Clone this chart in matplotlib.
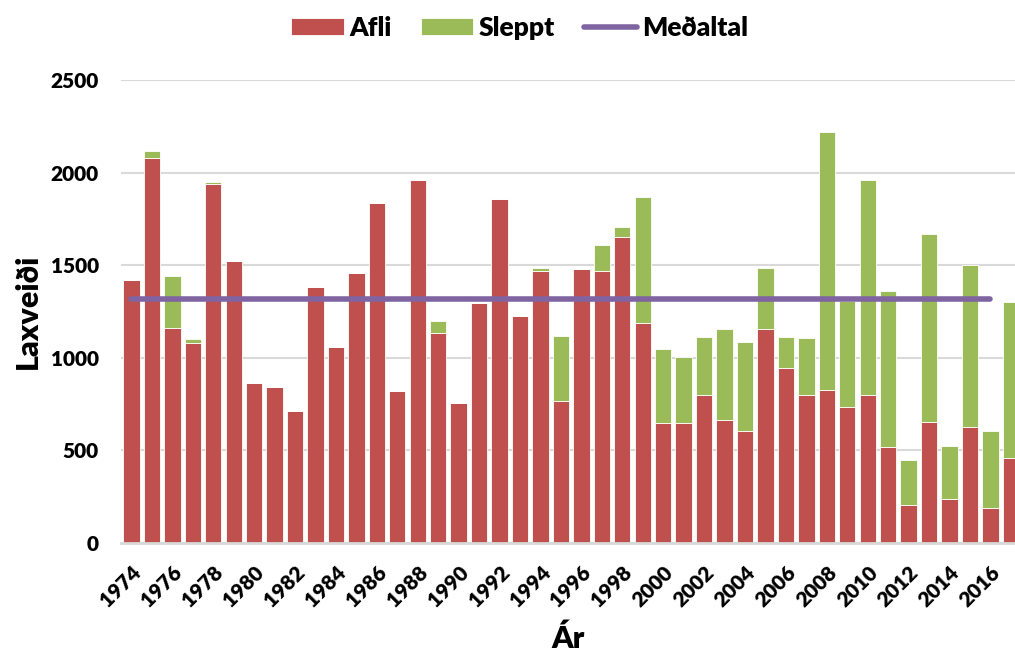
import matplotlib.pyplot as plt
import numpy as np

plt.rcParams['font.family'] = ['Lato', 'DejaVu Sans']
plt.rcParams['font.weight'] = 'bold'

# ár (years)
years = np.arange(1974, 2018)

# afli (catch kept)
afli = np.array([1420, 2080, 1160, 1080, 1940, 1525, 865, 845, 715, 1380,
                 1060, 1460, 1835, 820, 1960, 1135, 755, 1295, 1860, 1225,
                 1470, 765, 1480, 1470, 1650, 1190, 650, 650, 800, 665,
                 605, 1155, 945, 800, 825, 735, 800, 520, 205, 655,
                 240, 625, 190, 460])

# total incl. sleppt (released)
total = np.array([1420, 2115, 1440, 1100, 1950, 1525, 865, 845, 715, 1380,
                  1060, 1460, 1835, 820, 1960, 1200, 755, 1295, 1860, 1225,
                  1485, 1120, 1480, 1610, 1705, 1870, 1045, 1005, 1115, 1155,
                  1085, 1485, 1110, 1105, 2220, 1305, 1960, 1360, 450, 1670,
                  525, 1500, 605, 1300])
sleppt = total - afli

# meðaltal (mean) 1974-2016
mean_years = np.array([1974, 2016])
mean_vals = np.array([1318, 1318])

red = '#C0504D'
green = '#9BBB59'
purple = '#8064A2'

fig = plt.figure(figsize=(10.15, 6.57), dpi=100)
ax = fig.add_axes([0.1192, 0.1735, 0.8808, 0.7047])

b1 = ax.bar(years, afli, width=0.8, color=red, edgecolor='white', linewidth=0.6,
            label='Afli', zorder=2)
b2 = ax.bar(years, sleppt, bottom=afli, width=0.8, color=green, edgecolor='white',
            linewidth=0.6, label='Sleppt', zorder=2)
l1, = ax.plot(mean_years, mean_vals, color=purple, linewidth=4,
              solid_capstyle='round', label='Meðaltal', zorder=3)

ax.set_xlim(1973.49, 2017.2)
ax.set_ylim(0, 2500)
ax.set_yticks(np.arange(0, 2501, 500))
ax.grid(axis='y', color='#D9D9D9', linewidth=1.5, zorder=0)
ax.set_axisbelow(True)

ax.set_xticks(years[::2])
ax.set_xticklabels([str(y) for y in years[::2]], rotation=45, ha='right',
                   rotation_mode='anchor', fontsize=15, fontweight='heavy')
for lab in ax.get_yticklabels():
    lab.set_fontsize(15)
    lab.set_fontweight('heavy')
ax.tick_params(axis='both', length=0)
ax.tick_params(axis='x', pad=14)
ax.tick_params(axis='y', pad=16)

for s in ['top', 'right', 'left']:
    ax.spines[s].set_visible(False)
ax.spines['bottom'].set_color('#D9D9D9')
ax.spines['bottom'].set_linewidth(2)

ax.set_ylabel('Laxveiði', fontsize=22, fontweight='heavy', labelpad=6)
ax.set_xlabel('Ár', fontsize=22, fontweight='heavy', labelpad=10)

fig.legend(handles=[b1, b2, l1], loc='upper center', bbox_to_anchor=(0.512, 1.012),
           ncol=3, frameon=False, prop={'size': 19, 'weight': 'heavy'},
           handlelength=2.0, handleheight=0.6,
           columnspacing=1.1, handletextpad=0.2)

fig.savefig('out.png', dpi=100)
